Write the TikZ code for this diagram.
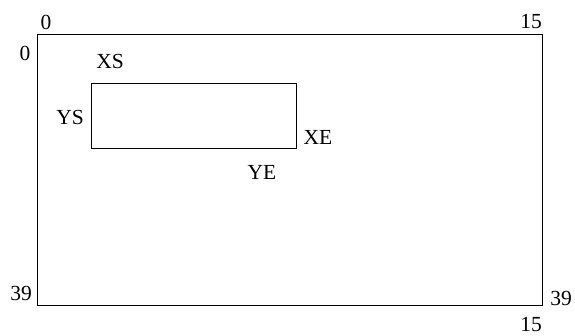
\documentclass[tikz,border=0pt]{standalone}
\usepackage{fontspec}
\setmainfont{Liberation Serif}
\begin{document}
\begin{tikzpicture}[x=1pt,y=-1pt,
  lbl/.style={inner sep=0pt,font=\fontsize{21.5}{21.5}\selectfont},
  box/.style={draw,line width=1pt}]
\useasboundingbox (0,0) rectangle (575,336);
\coordinate (o1) at (37,35);
\coordinate (o2) at (542,306);
\coordinate (i1) at (91,84);
\coordinate (i2) at (296,149);
\draw[box] (o1) rectangle (o2);
\draw[box] (i1) rectangle (i2);
\node[lbl] (t0) at (46,22) {0};
\node[lbl] (t15) at (531,21.5) {15};
\node[lbl] (l0) at (25,53) {0};
\node[lbl] (xs) at (110,61) {XS};
\node[lbl] (ys) at (70,117) {YS};
\node[lbl] (xe) at (318,137) {XE};
\node[lbl] (ye) at (262,172) {YE};
\node[lbl] (l39) at (21,293) {39};
\node[lbl] (r39) at (561,298) {39};
\node[lbl] (b15) at (531,325) {15};
\end{tikzpicture}
\end{document}
